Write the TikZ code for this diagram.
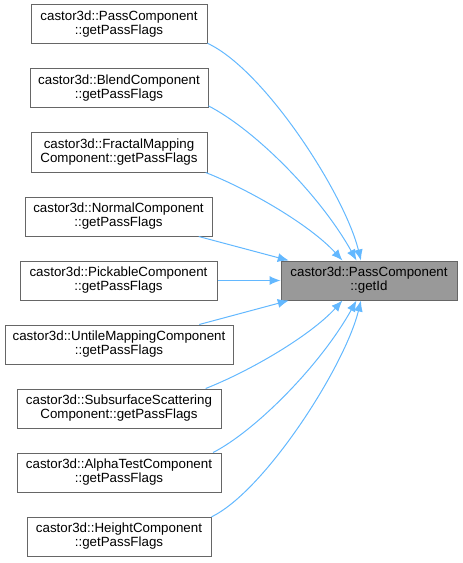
\documentclass[tikz,border=0pt]{standalone}
\usepackage{fontspec}
\setmainfont{Liberation Sans}
\usetikzlibrary{arrows.meta}
\definecolor{edgeblue}{HTML}{63B8FF}
\definecolor{boxborder}{HTML}{666666}
\definecolor{targetfill}{HTML}{999999}
\tikzset{
  box/.style={draw=boxborder, line width=0.75pt, fill=white, inner sep=0pt,
    minimum height=29.25pt, align=center, font=\fontsize{10pt}{10.5pt}\selectfont},
  targetbox/.style={box, fill=targetfill},
  edge/.style={draw=edgeblue, line width=0.75pt, -{Latex[length=8.25pt,width=6.75pt]}}
}
\begin{document}
\begin{tikzpicture}[x=0.75pt,y=-0.75pt]
\useasboundingbox (0,0) rectangle (463,563);
\node[box, minimum width=132pt] (n1) at (119,24.5) {castor3d::PassComponent\\::getPassFlags};
\node[box, minimum width=133.5pt] (n2) at (119,88.5) {castor3d::BlendComponent\\::getPassFlags};
\node[box, minimum width=132pt] (n3) at (119,152.5) {castor3d::FractalMapping\\Component::getPassFlags};
\node[box, minimum width=140.25pt] (n4) at (118.5,216.5) {castor3d::NormalComponent\\::getPassFlags};
\node[box, minimum width=147.75pt] (n5) at (118.5,280.5) {castor3d::PickableComponent\\::getPassFlags};
\node[box, minimum width=171pt] (n6) at (119,344.5) {castor3d::UntileMappingComponent\\::getPassFlags};
\node[box, minimum width=153pt] (n7) at (119,408.5) {castor3d::SubsurfaceScattering\\Component::getPassFlags};
\node[box, minimum width=153pt] (n8) at (119,472.5) {castor3d::AlphaTestComponent\\::getPassFlags};
\node[box, minimum width=138pt] (n9) at (119,536.5) {castor3d::HeightComponent\\::getPassFlags};
\node[targetbox, minimum width=132pt] (t) at (369,280.5) {castor3d::PassComponent\\::getId};

\draw[edge] (n1.-12) .. controls (265,70) and (345,195) .. (t.112);
\draw[edge] (n2.-11) .. controls (255,130) and (320,195) .. (t.122);
\draw[edge] (n3.-13) .. controls (250,190) and (310,225) .. (t.143);
\draw[edge] (n4.-14) -- (t.166);
\draw[edge] (n5.east) -- (t.west);
\draw[edge] (n6.14) -- (t.194);
\draw[edge] (n7.13) .. controls (250,371) and (310,336) .. (t.217);
\draw[edge] (n8.12) .. controls (255,431) and (320,366) .. (t.238);
\draw[edge] (n9.12) .. controls (265,491) and (345,366) .. (t.248);
\end{tikzpicture}
\end{document}
